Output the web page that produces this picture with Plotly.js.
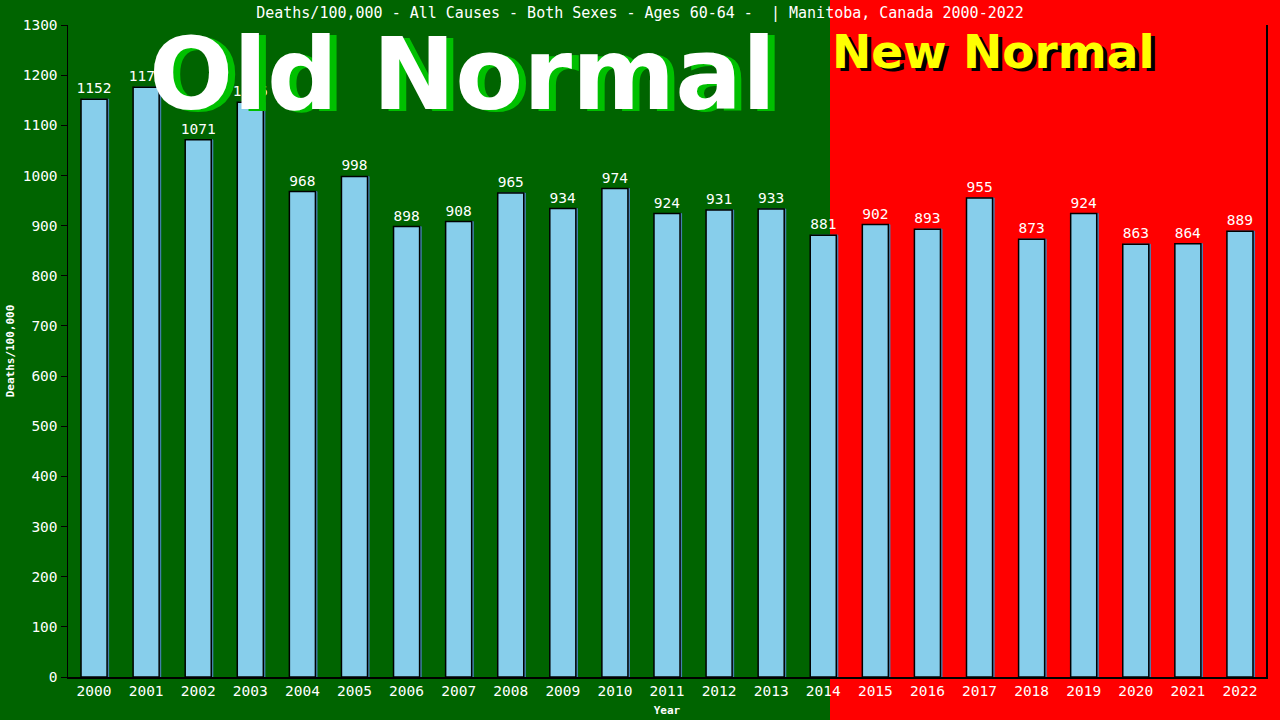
<!DOCTYPE html>
<html><head><meta charset="utf-8">
<script src="https://cdn.plot.ly/plotly-3.0.1.min.js"></script>
<style>html,body{margin:0;padding:0;background:#006400;}#chart{width:1280px;height:720px;}</style>
</head><body><div id="chart"></div>
<script>
const years = ['2000','2001','2002','2003','2004','2005','2006','2007','2008','2009','2010','2011','2012','2013','2014','2015','2016','2017','2018','2019','2020','2021','2022'];
const deaths = [1152,1176,1071,1146,968,998,898,908,965,934,974,924,931,933,881,902,893,955,873,924,863,864,889];
const yTicks = [0,100,200,300,400,500,600,700,800,900,1000,1100,1200,1300];

const mono = 'DejaVu Sans Mono, Liberation Mono, monospace';
const L = 68, R = 1266, T = 25, B = 677;
const W = R - L, H = B - T;
const px = x => (x - L) / W;
const py = y => (B - y) / H;

const shadow = {
  type: 'bar', x: years, y: deaths, width: 0.5, offset: -0.22,
  marker: {color: '#4682B4', line: {color: '#4682B4', width: 1}},
  hoverinfo: 'skip'
};
const trace = {
  type: 'bar', x: years, y: deaths, width: 0.5, offset: -0.25,
  marker: {color: '#87CEEB', line: {color: '#000000', width: 1.5}},
  text: deaths.map(String), textposition: 'outside', cliponaxis: false, constraintext: 'none',
  textfont: {family: mono, size: 14.5, color: '#ffffff'},
  hoverinfo: 'x+y'
};

const layout = {
  width: 1280, height: 720,
  margin: {l: L, r: 1280 - R, t: T, b: 720 - B},
  paper_bgcolor: '#006400', plot_bgcolor: 'rgba(0,0,0,0)',
  showlegend: false, barmode: 'overlay',
  title: {text: 'Deaths/100,000 - All Causes - Both Sexes - Ages 60-64 -  | Manitoba, Canada 2000-2022',
    font: {family: mono, size: 15, color: '#ffffff'}, x: 0.5, xanchor: 'center', y: 0.982, yanchor: 'middle'},
  xaxis: {type: 'category', range: [-0.5, 22.5], showline: true, linecolor: '#000', linewidth: 1.5,
    ticks: '', showgrid: false, zeroline: false,
    tickfont: {family: mono, size: 14.5, color: '#ffffff'},
    title: {text: 'Year', font: {family: mono, size: 11, color: '#ffffff', weight: 'bold'}, standoff: 8}},
  yaxis: {range: [0, 1300], tickvals: yTicks, ticktext: yTicks.map(String), showline: true, mirror: true,
    linecolor: '#000', linewidth: 1.5, ticks: 'outside', ticklen: 6, tickcolor: '#000',
    showgrid: false, zeroline: false,
    tickfont: {family: mono, size: 14.5, color: '#ffffff'},
    title: {text: 'Deaths/100,000', font: {family: mono, size: 11, color: '#ffffff', weight: 'bold'}, standoff: 6}},
  shapes: [
    {type: 'rect', xref: 'paper', yref: 'paper', x0: px(0), x1: px(830), y0: py(720), y1: py(0),
     fillcolor: '#006400', line: {width: 0}, layer: 'below'},
    {type: 'rect', xref: 'paper', yref: 'paper', x0: px(830), x1: px(1280), y0: py(720), y1: py(0),
     fillcolor: '#ff0000', line: {width: 0}, layer: 'below'}
  ],
  annotations: [
    {text: '<b>Old Normal</b>', xref: 'paper', yref: 'paper', x: px(469), y: py(77), xanchor: 'center', yanchor: 'middle',
     showarrow: false, font: {family: 'DejaVu Sans, Verdana, sans-serif', size: 99, color: '#00c000'}},
    {text: '<b>Old Normal</b>', xref: 'paper', yref: 'paper', x: px(462), y: py(74), xanchor: 'center', yanchor: 'middle',
     showarrow: false, font: {family: 'DejaVu Sans, Verdana, sans-serif', size: 99, color: '#ffffff'}},
    {text: '<b>New Normal</b>', xref: 'paper', yref: 'paper', x: px(997), y: py(55), xanchor: 'center', yanchor: 'middle',
     showarrow: false, font: {family: 'DejaVu Sans, Verdana, sans-serif', size: 47, color: '#000000'}},
    {text: '<b>New Normal</b>', xref: 'paper', yref: 'paper', x: px(993), y: py(52), xanchor: 'center', yanchor: 'middle',
     showarrow: false, font: {family: 'DejaVu Sans, Verdana, sans-serif', size: 47, color: '#ffff00'}}
  ]
};

Plotly.newPlot('chart', [shadow, trace], layout, {displayModeBar: false, staticPlot: true});
</script></body></html>
